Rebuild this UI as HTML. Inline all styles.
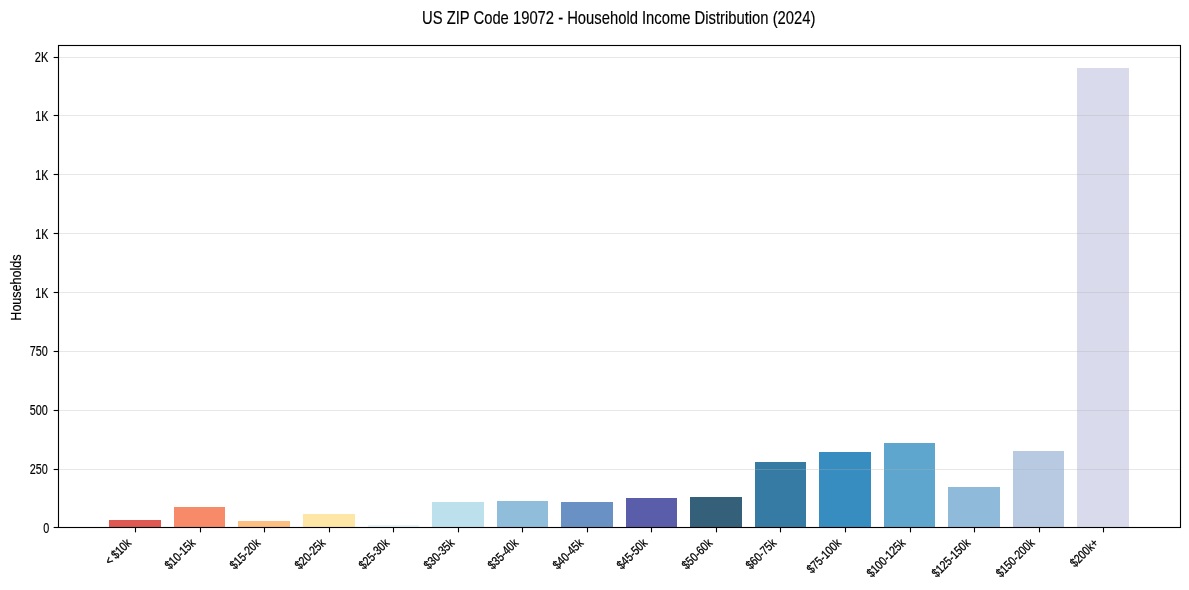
<!DOCTYPE html>
<html lang="en"><head><meta charset="utf-8"><title>US ZIP Code 19072 - Household Income Distribution (2024)</title>
<style>
html,body{margin:0;padding:0;background:#fff;}
svg{display:block;}
text{font-family:"Liberation Sans",sans-serif;fill:#000;stroke:#000;stroke-width:0.18px;stroke-linejoin:round;}
</style></head><body>
<svg width="1189" height="590" viewBox="0 0 1189 590">
<rect x="0" y="0" width="1189" height="590" fill="#ffffff"/>

<g shape-rendering="crispEdges">
<rect x="109" y="520" width="52" height="8" fill="#df5952"/>
<rect x="174" y="507" width="51" height="21" fill="#f68a69"/>
<rect x="238" y="521" width="52" height="7" fill="#fdbe81"/>
<rect x="303" y="514" width="52" height="14" fill="#fee6a6"/>
<rect x="368" y="525" width="51" height="3" fill="#e6f5f9"/>
<rect x="432" y="502" width="52" height="26" fill="#bce1ed"/>
<rect x="497" y="501" width="51" height="27" fill="#90bdda"/>
<rect x="561" y="502" width="52" height="26" fill="#6a91c3"/>
<rect x="626" y="498" width="51" height="30" fill="#5a5eaa"/>
<rect x="690" y="497" width="52" height="31" fill="#356079"/>
<rect x="755" y="462" width="51" height="66" fill="#367ba4"/>
<rect x="819" y="452" width="52" height="76" fill="#378dc0"/>
<rect x="884" y="443" width="51" height="85" fill="#5ea6cd"/>
<rect x="948" y="487" width="52" height="41" fill="#90bad9"/>
<rect x="1013" y="451" width="51" height="77" fill="#b8cae2"/>
<rect x="1077" y="68" width="52" height="460" fill="#d9daeb"/>
</g>
<g stroke="#b0b0b0" stroke-opacity="0.3" stroke-width="1.11">
<line x1="58.5" x2="1180.5" y1="527.5" y2="527.5"/>
<line x1="58.5" x2="1180.5" y1="469.5" y2="469.5"/>
<line x1="58.5" x2="1180.5" y1="410.5" y2="410.5"/>
<line x1="58.5" x2="1180.5" y1="351.5" y2="351.5"/>
<line x1="58.5" x2="1180.5" y1="292.5" y2="292.5"/>
<line x1="58.5" x2="1180.5" y1="233.5" y2="233.5"/>
<line x1="58.5" x2="1180.5" y1="174.5" y2="174.5"/>
<line x1="58.5" x2="1180.5" y1="115.5" y2="115.5"/>
<line x1="58.5" x2="1180.5" y1="57.5" y2="57.5"/>
</g>
<g stroke="#000" stroke-width="1.11">
<line x1="53.64" x2="58.5" y1="527.5" y2="527.5"/>
<line x1="53.64" x2="58.5" y1="469.5" y2="469.5"/>
<line x1="53.64" x2="58.5" y1="410.5" y2="410.5"/>
<line x1="53.64" x2="58.5" y1="351.5" y2="351.5"/>
<line x1="53.64" x2="58.5" y1="292.5" y2="292.5"/>
<line x1="53.64" x2="58.5" y1="233.5" y2="233.5"/>
<line x1="53.64" x2="58.5" y1="174.5" y2="174.5"/>
<line x1="53.64" x2="58.5" y1="115.5" y2="115.5"/>
<line x1="53.64" x2="58.5" y1="57.5" y2="57.5"/>
<line x1="135.5" x2="135.5" y1="527.5" y2="532.36"/>
<line x1="200.5" x2="200.5" y1="527.5" y2="532.36"/>
<line x1="264.5" x2="264.5" y1="527.5" y2="532.36"/>
<line x1="329.5" x2="329.5" y1="527.5" y2="532.36"/>
<line x1="393.5" x2="393.5" y1="527.5" y2="532.36"/>
<line x1="458.5" x2="458.5" y1="527.5" y2="532.36"/>
<line x1="522.5" x2="522.5" y1="527.5" y2="532.36"/>
<line x1="587.5" x2="587.5" y1="527.5" y2="532.36"/>
<line x1="651.5" x2="651.5" y1="527.5" y2="532.36"/>
<line x1="716.5" x2="716.5" y1="527.5" y2="532.36"/>
<line x1="780.5" x2="780.5" y1="527.5" y2="532.36"/>
<line x1="845.5" x2="845.5" y1="527.5" y2="532.36"/>
<line x1="910.5" x2="910.5" y1="527.5" y2="532.36"/>
<line x1="974.5" x2="974.5" y1="527.5" y2="532.36"/>
<line x1="1039.5" x2="1039.5" y1="527.5" y2="532.36"/>
<line x1="1103.5" x2="1103.5" y1="527.5" y2="532.36"/>
</g>
<rect x="58.5" y="45.5" width="1122.0" height="482.0" fill="none" stroke="#000" stroke-width="1.11"/>
<text transform="translate(618.7,23.9) scale(0.7847,1)" text-anchor="middle" font-size="18.868">US ZIP Code 19072 - Household Income Distribution (2024)</text>
<text transform="translate(21,287.6) rotate(-90) scale(0.8119,1)" text-anchor="middle" font-size="15.431">Households</text>
<text transform="translate(49.3,533) scale(0.7455,1)" text-anchor="end" font-size="14.514">0</text>
<text transform="translate(47.8,474) scale(0.7455,1)" text-anchor="end" font-size="14.514">250</text>
<text transform="translate(47.8,415) scale(0.7455,1)" text-anchor="end" font-size="14.514">500</text>
<text transform="translate(47.8,356) scale(0.7455,1)" text-anchor="end" font-size="14.514">750</text>
<text transform="translate(48.3,298) scale(0.7376,1)" text-anchor="end" font-size="14.514">1K</text>
<text transform="translate(48.3,239) scale(0.7376,1)" text-anchor="end" font-size="14.514">1K</text>
<text transform="translate(48.3,180) scale(0.7376,1)" text-anchor="end" font-size="14.514">1K</text>
<text transform="translate(48.3,121) scale(0.7376,1)" text-anchor="end" font-size="14.514">1K</text>
<text transform="translate(48.3,62) scale(0.7611,1)" text-anchor="end" font-size="14.514">2K</text>
<text transform="translate(132.0,543.8) rotate(-45) scale(0.8200,1)" text-anchor="end" font-size="12.500" style="stroke-width:0.3px">&lt; $10k</text>
<text transform="translate(196.0,543.8) rotate(-45) scale(0.8200,1)" text-anchor="end" font-size="12.500" style="stroke-width:0.3px">$10-15k</text>
<text transform="translate(261.0,543.8) rotate(-45) scale(0.8200,1)" text-anchor="end" font-size="12.500" style="stroke-width:0.3px">$15-20k</text>
<text transform="translate(326.0,543.8) rotate(-45) scale(0.8200,1)" text-anchor="end" font-size="12.500" style="stroke-width:0.3px">$20-25k</text>
<text transform="translate(390.0,543.8) rotate(-45) scale(0.8200,1)" text-anchor="end" font-size="12.500" style="stroke-width:0.3px">$25-30k</text>
<text transform="translate(455.0,543.8) rotate(-45) scale(0.8200,1)" text-anchor="end" font-size="12.500" style="stroke-width:0.3px">$30-35k</text>
<text transform="translate(519.0,543.8) rotate(-45) scale(0.8200,1)" text-anchor="end" font-size="12.500" style="stroke-width:0.3px">$35-40k</text>
<text transform="translate(584.0,543.8) rotate(-45) scale(0.8200,1)" text-anchor="end" font-size="12.500" style="stroke-width:0.3px">$40-45k</text>
<text transform="translate(648.0,543.8) rotate(-45) scale(0.8200,1)" text-anchor="end" font-size="12.500" style="stroke-width:0.3px">$45-50k</text>
<text transform="translate(713.0,543.8) rotate(-45) scale(0.8200,1)" text-anchor="end" font-size="12.500" style="stroke-width:0.3px">$50-60k</text>
<text transform="translate(777.0,543.8) rotate(-45) scale(0.8200,1)" text-anchor="end" font-size="12.500" style="stroke-width:0.3px">$60-75k</text>
<text transform="translate(842.0,543.8) rotate(-45) scale(0.8200,1)" text-anchor="end" font-size="12.500" style="stroke-width:0.3px">$75-100k</text>
<text transform="translate(906.0,543.8) rotate(-45) scale(0.8200,1)" text-anchor="end" font-size="12.500" style="stroke-width:0.3px">$100-125k</text>
<text transform="translate(971.0,543.8) rotate(-45) scale(0.8200,1)" text-anchor="end" font-size="12.500" style="stroke-width:0.3px">$125-150k</text>
<text transform="translate(1035.25,543.8) rotate(-45) scale(0.8200,1)" text-anchor="end" font-size="12.500" style="stroke-width:0.3px">$150-200k</text>
<text transform="translate(1099.0,543.8) rotate(-45) scale(0.8200,1)" text-anchor="end" font-size="12.500" style="stroke-width:0.3px">$200k+</text>
</svg>
</body></html>
